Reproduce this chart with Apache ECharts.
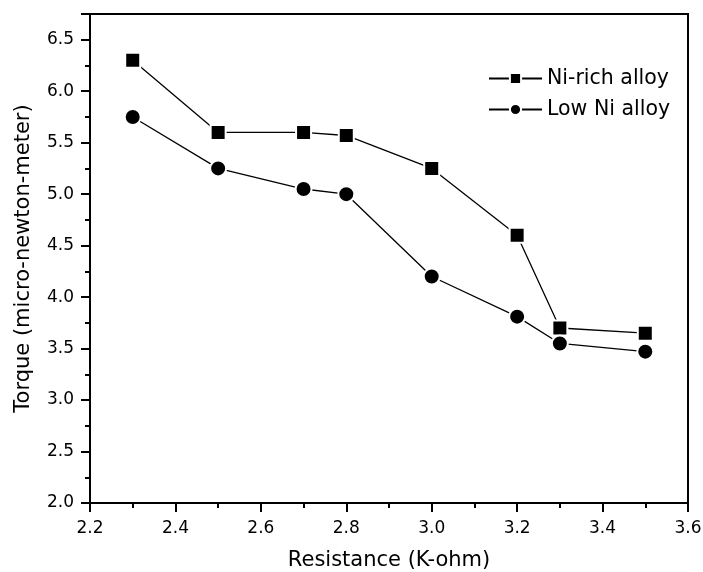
<!DOCTYPE html>
<html>
<head>
<meta charset="utf-8">
<script src="https://cdn.jsdelivr.net/npm/echarts@6/dist/echarts.min.js"></script>
<style>html,body{margin:0;padding:0;background:#fff;}#c{width:703px;height:572px;}</style>
</head>
<body>
<div id="c"></div>
<script>
var resistance = [2.3, 2.5, 2.7, 2.8, 3.0, 3.2, 3.3, 3.5];
var niRich = [6.30, 5.60, 5.60, 5.57, 5.25, 4.60, 3.70, 3.65];
var lowNi = [5.75, 5.25, 5.05, 5.00, 4.20, 3.81, 3.55, 3.47];
var seriesNames = ['Ni-rich alloy', 'Low Ni alloy'];

function pairs(xs, ys) { return xs.map(function (x, i) { return [x, ys[i]]; }); }

var font = '"DejaVu Sans", sans-serif';
var chart = echarts.init(document.getElementById('c'));
var axisCommon = {
  axisLine: { show: true, lineStyle: { color: '#000', width: 2 } },
  axisTick: { show: true, inside: false, length: 9, lineStyle: { color: '#000', width: 2 } },
  minorTick: { show: true, splitNumber: 2, length: 5, lineStyle: { color: '#000', width: 2 } },
  splitLine: { show: false },
  nameLocation: 'middle',
  nameTextStyle: { fontFamily: font, fontSize: 21, color: '#000' }
};
chart.setOption({
  animation: false,
  backgroundColor: '#fff',
  grid: { left: 90, right: 15, top: 14, bottom: 69, outerBoundsMode: 'none', containLabel: false, show: true, borderColor: '#000', borderWidth: 2, backgroundColor: 'transparent' },
  legend: {
    orient: 'vertical', left: 483, top: 63, itemWidth: 53, itemHeight: 14, itemGap: 10,
    textStyle: { fontFamily: font, fontSize: 20.5, color: '#000' },
    data: seriesNames
  },
  xAxis: Object.assign({}, axisCommon, {
    type: 'value', min: 2.2, max: 3.6, interval: 0.2,
    name: 'Resistance (K-ohm)', nameGap: 47,
    axisLabel: { fontFamily: font, fontSize: 17, color: '#000', margin: 17, formatter: function (v) { return v.toFixed(1); } }
  }),
  yAxis: Object.assign({}, axisCommon, {
    type: 'value', min: 2.0, max: 6.75, interval: 0.5,
    name: 'Torque (micro-newton-meter)', nameGap: 56,
    axisLabel: { fontFamily: font, fontSize: 17, color: '#000', margin: 16, showMaxLabel: false, formatter: function (v) { return v.toFixed(1); } }
  }),
  series: [
    { name: seriesNames[0], type: 'line', data: pairs(resistance, niRich), symbol: 'rect', symbolSize: 15,
      lineStyle: { color: '#000', width: 1.3 }, itemStyle: { color: '#000', borderColor: '#fff', borderWidth: 2 } },
    { name: seriesNames[1], type: 'line', data: pairs(resistance, lowNi), symbol: 'circle', symbolSize: 16,
      lineStyle: { color: '#000', width: 1.3 }, itemStyle: { color: '#000', borderColor: '#fff', borderWidth: 2 } }
  ]
});
</script>
</body>
</html>
